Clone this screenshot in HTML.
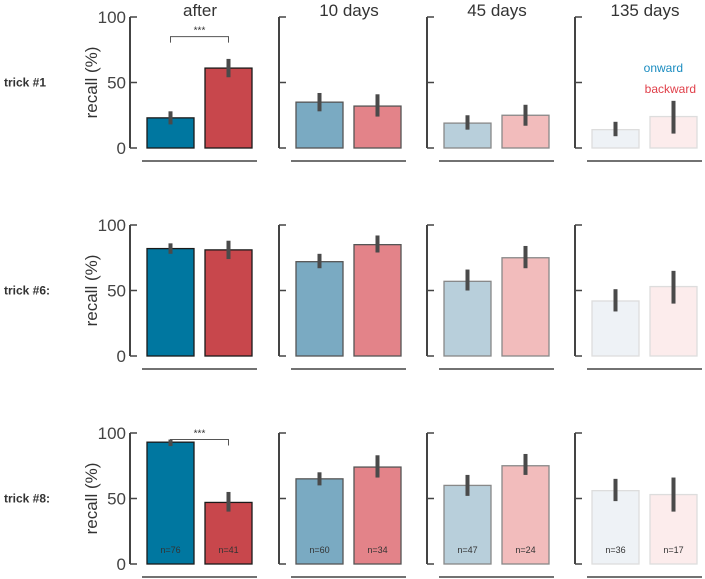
<!DOCTYPE html>
<html><head><meta charset="utf-8"><style>
body{margin:0;background:#fff;}
svg{display:block;font-family:"Liberation Sans",Arial,sans-serif;}
</style></head><body>
<svg id="chart" width="705" height="579"></svg>
<script>
const periods = ["after","10 days","45 days","135 days"];
const tricks = ["trick #1","trick #6:","trick #8:"];
const onwardVals = [[23,35,19,14],[82,72,57,42],[93,65,60,56]];
const onwardLo = [[18,28,14,9],[78,67,50,34],[90,60,52,48]];
const onwardHi = [[28,42,25,20],[86,78,66,51],[95,70,68,65]];
const backwardVals = [[61,32,25,24],[81,85,75,53],[47,74,75,53]];
const backwardLo = [[54,24,17,11],[74,79,67,40],[40,66,68,40]];
const backwardHi = [[68,41,33,36],[88,92,84,65],[55,83,84,66]];
const nOnward = [76,60,47,36];
const nBackward = [41,34,24,17];
const yTicks = [0,50,100];

const NS="http://www.w3.org/2000/svg";
const svg=document.getElementById('chart');
function mk(tag,attrs,parent){const e=document.createElementNS(NS,tag);for(const k in attrs)e.setAttribute(k,attrs[k]);(parent||svg).appendChild(e);return e;}
const axisX=[130,279,427,575];
const rowTop=[17,225,433];
const rowH=131;
const blueC=["#0077a0","#7aaac2","#b8cfdb","#eef2f6"];
const redC=["#c8474c","#e38389","#f2bcbc","#fcecec"];
const edgeC=["#1a1a1a","#555","#888","#ddd"];
periods.forEach((p,c)=>{
  const t=mk('text',{x:axisX[c]+70,y:16,'text-anchor':'middle','font-size':17,fill:'#333'});
  
  
  t.textContent=p;
});
tricks.forEach((tr,r)=>{
  const y0=rowTop[r], ys=v=>y0+rowH-v/100*rowH;
  const lbl=mk('text',{x:4,y:ys(50)+4,'font-size':12,'font-weight':'bold',fill:'#333'});
  
  
  lbl.textContent=tr;
  const yt=mk('text',{x:0,y:0,'font-size':17,fill:'#333','text-anchor':'middle',transform:`translate(97,${ys(50)}) rotate(-90)`});
  
  
  yt.textContent='recall (%)';
  periods.forEach((p,c)=>{
    const ax=axisX[c];
    const g=mk('g',{});
    
    
    mk('line',{x1:ax,x2:ax,y1:ys(100),y2:ys(0),stroke:'#444','stroke-width':2},g);
    yTicks.forEach(v=>{
      mk('line',{x1:ax,x2:ax+7,y1:ys(v),y2:ys(v),stroke:'#444','stroke-width':1.5},g);
      if(c===0){const tt=mk('text',{x:ax-4,y:ys(v)+6,'text-anchor':'end','font-size':17,fill:'#444'},g);tt.textContent=v;}
    });
    mk('line',{x1:ax+12,x2:ax+127,y1:ys(0)+13,y2:ys(0)+13,stroke:'#444','stroke-width':1.5},g);
    const series=[[onwardVals,onwardLo,onwardHi,blueC,17,nOnward,'onward'],[backwardVals,backwardLo,backwardHi,redC,75,nBackward,'backward']];
    series.forEach(([vals,lo,hi,col,off,nArr,nm])=>{
      const v=vals[r][c];
      const b=mk('rect',{x:ax+off,y:ys(v),width:47,height:ys(0)-ys(v),fill:col[c],stroke:edgeC[c],'stroke-width':1.3},g);
      
      
      const e=mk('line',{x1:ax+off+23.5,x2:ax+off+23.5,y1:ys(lo[r][c]),y2:ys(hi[r][c]),stroke:'#4a4a4a','stroke-width':4},g);
      
      
      if(r===2){const nt=mk('text',{x:ax+off+23.5,y:ys(0)-11,'text-anchor':'middle','font-size':9,fill:'#333'},g);nt.textContent='n='+nArr[c];}
    });
  });
});
// significance brackets
[[0,onwardHi[0][0]+5],[2,onwardVals[2][0]]].forEach(([r],i)=>{
  const y0=rowTop[r], ys=v=>y0+rowH-v/100*rowH;
  const top=r===0?ys(85):ys(95);
  const g=mk('g',{});
  
  
  const bot=r===0?top+6:ys(onwardVals[2][0]);
  mk('path',{d:`M170.5 ${bot} V${top} H228.5 V${top+6}`,fill:'none',stroke:'#555','stroke-width':1},g);
  const s=mk('text',{x:199.5,y:top-3,'text-anchor':'middle','font-size':10,fill:'#333'},g);s.textContent='***';
});
// legend
const l1=mk('text',{x:683,y:72,'text-anchor':'end','font-size':12,fill:'#1a8cc0'});


l1.textContent='onward';
const l2=mk('text',{x:696,y:93,'text-anchor':'end','font-size':12,fill:'#e0404a'});


l2.textContent='backward';
</script>
</body></html>
